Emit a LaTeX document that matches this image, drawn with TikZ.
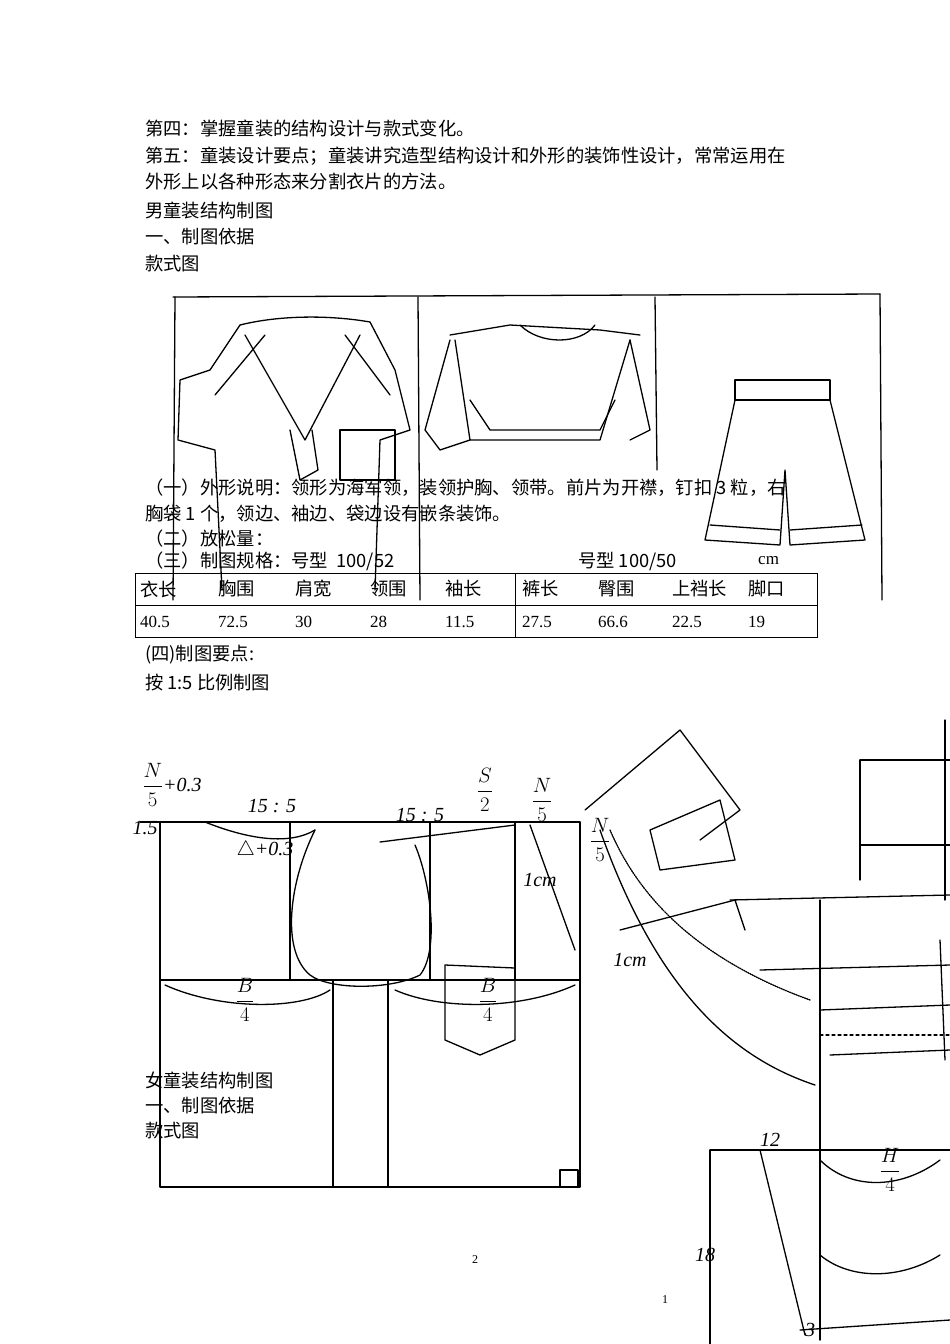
\documentclass[tikz,border=0pt]{standalone}
\usepackage{amsmath}
\usepackage{fontspec}
\newfontfamily\cjk{Noto Sans CJK SC}
\setmainfont{Liberation Serif}
\begin{document}
\begin{tikzpicture}[x=1pt,y=-1pt,
  txt/.style={anchor=west,font=\cjk\fontsize{18.3}{20}\selectfont,inner sep=0},
  num/.style={anchor=west,font=\fontsize{17}{19}\selectfont,inner sep=0},
  pen/.style={line width=1.3pt,line cap=round,line join=round},
  thin/.style={line width=0.8pt},
  hand/.style={font=\itshape\fontsize{20}{22}\selectfont}]
\useasboundingbox (0,0) rectangle (950,1344);
\fill[white] (0,0) rectangle (950,1344);
% text
\node[txt] (t1) at (145,128) {第四：掌握童装的结构设计与款式变化。};
\node[txt] (t2) at (145,156) {第五：童装设计要点；童装讲究造型结构设计和外形的装饰性设计，常常运用在};
\node[txt] (t3) at (145,182) {外形上以各种形态来分割衣片的方法。};
\node[txt] (t4) at (145,210) {男童装结构制图};
\node[txt] (t5) at (145,237) {一、制图依据};
\node[txt] (t6) at (145,264) {款式图};
% sketch frame
\draw[pen] (173,297)--(880,294);
\draw[pen] (175,297)--(173,600);
\draw[pen] (418,297)--(420,600);
\draw[pen] (655,297)--(657,470);
\draw[pen] (880,294)--(882,600);
% shirt 1
\draw[pen] (240,325) .. controls (280,315) and (330,315) .. (370,322);
\draw[pen] (240,325)--(210,370)--(180,380)--(178,440)--(215,450)--(222,590);
\draw[pen] (370,322)--(395,370)--(410,430)--(380,440)--(375,590);
\draw[pen] (245,335)--(305,440)--(360,335);
\draw[pen] (290,430)--(300,480)--(318,470)--(312,430);
\draw[pen] (340,430) rectangle (395,480);
\draw[pen] (265,335)--(215,395); \draw[pen] (345,335)--(390,395);
% shirt 2
\draw[pen] (450,335)--(510,325)--(600,330)--(640,335);
\draw[pen] (455,340)--(470,440)--(600,440)--(630,340);
\draw[pen] (470,400)--(490,430)--(600,430)--(615,400);
\draw[pen] (450,340)--(425,430)--(440,450)--(470,440);
\draw[pen] (630,340)--(650,430)--(630,440);
\draw[pen] (520,325) .. controls (540,345) and (580,345) .. (595,325);
% shorts
\draw[pen] (735,380) rectangle (830,400);
\draw[pen] (735,400)--(705,540)--(780,545)--(785,470)--(790,545)--(865,540)--(830,400);
\draw[pen] (710,525)--(780,530); \draw[pen] (790,530)--(862,525);
% overlapping text
\node[txt] (t7) at (145,488) {（一）外形说明：领形为海军领，装领护胸、领带。前片为开襟，钉扣 3 粒，右};
\node[txt] (t8) at (145,514) {胸袋 1 个，领边、袖边、袋边设有嵌条装饰。};
\node[txt] (t9) at (145,539) {（二）放松量：};
\node[txt] (t10) at (145,561) {（三）制图规格：号型\ \ 100/52};
\node[txt] (t11) at (578,561) {号型 100/50};
\node[num] (t12) at (758,561) {cm};
% table
\draw[thin] (135,573) rectangle (817,637);
\draw[thin] (135,605)--(817,605);
\draw[thin] (515,573)--(515,637);
\foreach \x/\a/\b in {140/衣长/40.5,218/胸围/72.5,295/肩宽/30,370/领围/28,445/袖长/11.5,522/裤长/27.5,598/臀围/66.6,672/上裆长/22.5,748/脚口/19}{
  \node[txt] at (\x,589) {\a};
  \node[num] at (\x,622) {\b};}
\node[txt] (t13) at (145,655) {(四)制图要点:};
\node[txt] (t14) at (145,683) {按 1:5 比例制图};
% main pattern
\draw[pen] (140,822)--(580,822);
\draw[pen] (160,822)--(160,1187)--(580,1187)--(580,822);
\draw[pen] (160,980)--(580,980);
\draw[pen] (333,980)--(333,1187); \draw[pen] (388,980)--(388,1187);
\draw[pen] (290,822)--(290,980); \draw[pen] (430,822)--(430,980);
\draw[pen] (515,822)--(515,980); \draw[pen] (560,1170) rectangle (578,1187);
\draw[pen] (205,822) .. controls (250,840) and (290,845) .. (315,830);
\draw[pen] (380,842)--(515,825);
\draw[pen] (315,830) .. controls (290,880) and (280,950) .. (310,975) .. controls (330,990) and (390,990) .. (420,975) .. controls (440,950) and (430,880) .. (415,845);
\draw[pen] (165,985) .. controls (220,1010) and (300,1010) .. (330,990);
\draw[pen] (395,990) .. controls (440,1010) and (520,1010) .. (575,985);
\draw[pen] (445,965)--(515,968)--(515,1040)--(480,1055)--(445,1040)--cycle;
\draw[pen] (530,825)--(575,950);
\node[hand] (l1) at (172,785) {$\dfrac{N}{5}$+0.3};
\node[hand] (l2) at (272,806) {15 : 5};
\node[hand] (l3) at (420,815) {15 : 5};
\node[hand] (l4) at (485,790) {$\dfrac{S}{2}$};
\node[hand] (l5) at (542,800) {$\dfrac{N}{5}$};
\node[hand] (l6) at (145,828) {1.5};
\node[hand] (l7) at (265,850) {$\triangle$+0.3};
\node[hand] (l8) at (245,1000) {$\dfrac{B}{4}$};
\node[hand] (l9) at (488,1000) {$\dfrac{B}{4}$};
\node[hand] (l10) at (600,840) {$\dfrac{N}{5}$};
\node[hand] (l11) at (540,880) {1cm};
\node[hand] (l12) at (630,960) {1cm};
% right pattern: collar
\draw[pen] (585,810)--(680,730)--(740,810)--(700,840);
\draw[pen] (650,830)--(720,800)--(735,860)--(660,870)--cycle;
\draw[pen,densely dotted] (610,830) .. controls (640,900) and (700,960) .. (810,1000);
\draw[pen] (600,830) .. controls (660,1000) and (740,1060) .. (815,1085);
\draw[pen] (620,930)--(735,900)--(745,930);
\draw[pen] (730,900)--(950,895);
\draw[pen] (820,900)--(820,1340); \draw[pen] (860,760)--(860,880);
\draw[pen] (860,760)--(950,760); \draw[pen] (860,845)--(950,845);
\draw[pen] (760,970)--(950,965); \draw[pen] (820,1010)--(950,1005);
\draw[pen,dashed] (820,1035)--(950,1035);
\draw[pen] (830,1055)--(950,1050); \draw[pen] (940,940)--(945,1060);
\draw[pen] (945,720)--(945,900);
% pants
\draw[pen] (710,1150)--(950,1150); \draw[pen] (710,1150)--(710,1344);
\draw[pen] (760,1150)--(805,1335);
\draw[pen] (820,1160) .. controls (850,1190) and (900,1190) .. (940,1160);
\draw[pen] (820,1255) .. controls (850,1280) and (900,1280) .. (940,1255);
\draw[pen] (800,1330)--(950,1320);
\node[hand] (l13) at (770,1140) {12};
\node[hand] (l14) at (890,1170) {$\dfrac{H}{4}$};
\node[hand] (l15) at (705,1255) {18};
\node[hand] (l16) at (810,1330) {3};
\node[txt] (t15) at (145,1080) {女童装结构制图};
\node[txt] (t16) at (145,1106) {一、制图依据};
\node[txt] (t17) at (145,1131) {款式图};
\node[font=\fontsize{12}{14}\selectfont] (p) at (475,1260) {2};
\node[font=\fontsize{12}{14}\selectfont] (p2) at (665,1300) {1};
\end{tikzpicture}
\end{document}
